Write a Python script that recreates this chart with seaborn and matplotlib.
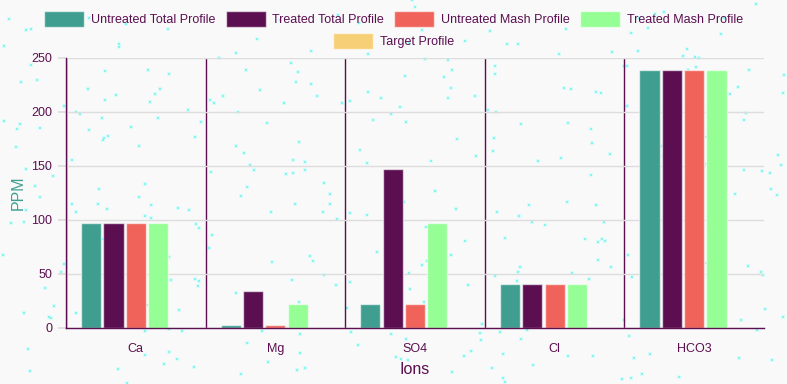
import numpy as np
import pandas as pd
import seaborn as sns
import matplotlib.pyplot as plt

# Data
ions = ['Ca', 'Mg', 'SO4', 'Cl', 'HCO3']
profiles = ['Untreated Total Profile', 'Treated Total Profile', 'Untreated Mash Profile',
            'Treated Mash Profile', 'Target Profile']
untreated_total = [97, 3, 22, 41, 239]
treated_total = [97, 34, 147, 41, 239]
untreated_mash = [97, 3, 22, 41, 239]
treated_mash = [97, 22, 97, 41, 239]
target = [0, 0, 0, 0, 0]
colors = ['#409e91', '#5b0e50', '#f0635a', '#95ff95', '#f6cf76']

purple = '#5b0e50'
bg = '#f9f9f9'

rows = []
for name, vals in zip(profiles, [untreated_total, treated_total, untreated_mash, treated_mash, target]):
    for ion, v in zip(ions, vals):
        rows.append({'ion': ion, 'ppm': v, 'profile': name})
df = pd.DataFrame(rows)

sns.set_theme(style='white')
plt.rcParams['font.family'] = ['Liberation Sans', 'DejaVu Sans']

fig = plt.figure(figsize=(7.87, 3.84), dpi=100, facecolor=bg)

# speckled background texture
bgax = fig.add_axes([0, 0, 1, 1], zorder=0)
bgax.set_xlim(0, 1)
bgax.set_ylim(0, 1)
bgax.axis('off')
rng = np.random.default_rng(7)
px, py = rng.random(380), rng.random(380)
bgax.scatter(px, py, s=10, marker='s', color='#d8fbf9', linewidths=0)
bgax.scatter(px, py, s=4, marker='s', color='#84f5f0', linewidths=0)

ax = fig.add_axes([66 / 787, 56 / 384, 698 / 787, 270 / 384], zorder=1)
ax.set_facecolor('none')

sns.barplot(data=df, x='ion', y='ppm', hue='profile', hue_order=profiles, order=ions,
            palette=colors, width=0.8, gap=0.1, ax=ax, saturation=1,
            edgecolor=(1, 1, 1, 0.6), linewidth=1, legend=True)

ax.set_ylim(0, 250)
ax.set_xlim(-0.5, 4.5)
ax.set_yticks([0, 50, 100, 150, 200, 250])
ax.yaxis.grid(True, color='#dddddd', linewidth=1)
ax.set_axisbelow(True)
ax.set_xticks([-0.5, 0.5, 1.5, 2.5, 3.5], minor=True)
ax.xaxis.grid(True, which='minor', color=purple, linewidth=1)
ax.tick_params(axis='x', which='minor', length=8, color=purple, width=1)
ax.tick_params(axis='x', which='major', length=0, labelsize=9, labelcolor=purple, pad=11)
ax.tick_params(axis='y', length=6, color='#dddddd', labelsize=9, labelcolor=purple, pad=4, left=True)

for s in ['top', 'right']:
    ax.spines[s].set_visible(False)
for s in ['left', 'bottom']:
    ax.spines[s].set_color(purple)
    ax.spines[s].set_linewidth(1)

ax.set_xlabel('')
ax.set_ylabel('')
fig.text(415 / 787, 1 - 370 / 384, 'Ions', fontsize=11.5, color=purple, ha='center', va='center')
fig.text(18 / 787, 1 - 193 / 384, 'PPM', fontsize=11.5, color='#409e91', ha='center', va='center',
         rotation=90)

handles, labels = ax.get_legend_handles_labels()
ax.get_legend().remove()
leg_kw = dict(frameon=False, fontsize=9, handlelength=3.2, handleheight=1.5,
              handletextpad=0.55, columnspacing=0.8, labelcolor=purple)
fig.legend(handles[:4], labels[:4], loc='center', bbox_to_anchor=(0.5, 1 - 19 / 384), ncol=4, **leg_kw)
fig.legend(handles[4:], labels[4:], loc='center', bbox_to_anchor=(0.5, 1 - 41 / 384), ncol=1, **leg_kw)

fig.savefig('out.png', dpi=100, facecolor=bg)
